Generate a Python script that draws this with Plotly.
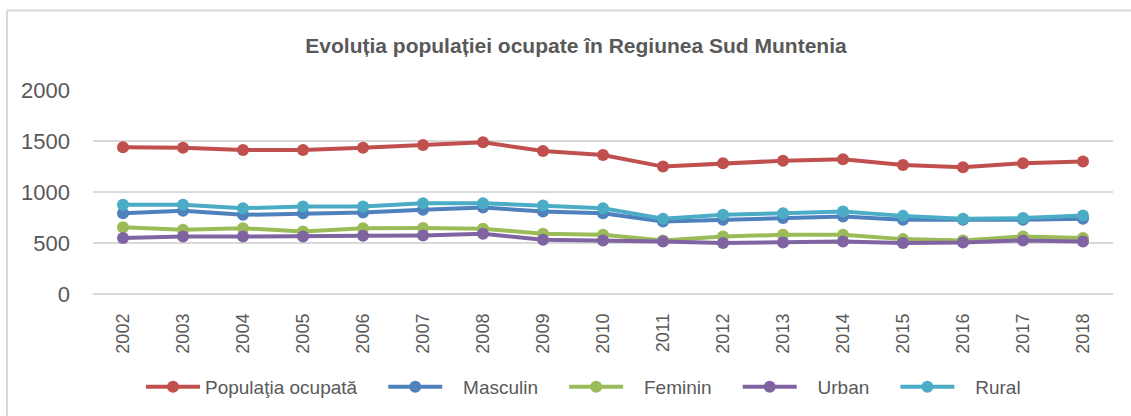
import plotly.graph_objects as go

years = [str(y) for y in range(2002, 2019)]
populatia = [1438, 1434, 1412, 1412, 1434, 1461, 1487, 1402, 1363, 1249, 1282, 1307, 1321, 1265, 1243, 1282, 1298]
masculin = [792, 815, 776, 792, 799, 825, 848, 808, 792, 711, 727, 744, 760, 727, 727, 727, 737]
feminin = [655, 629, 645, 613, 645, 648, 640, 590, 580, 525, 564, 580, 580, 538, 525, 564, 548]
urban = [548, 564, 564, 564, 570, 574, 590, 531, 525, 515, 499, 505, 515, 499, 505, 525, 515]
rural = [874, 874, 841, 857, 857, 890, 890, 867, 841, 737, 776, 792, 808, 766, 737, 744, 769]

series_names = ["Populaţia ocupată", "Masculin", "Feminin", "Urban", "Rural"]
series_values = [populatia, masculin, feminin, urban, rural]
colors = ["#C0504D", "#4F81BD", "#9BBB59", "#8064A2", "#4BACC6"]
name_prefix = ["", "\u00a0\u00a0\u00a0", "\u00a0\u00a0\u00a0", "\u00a0\u00a0\u00a0", "\u00a0\u00a0\u00a0"]
name_suffix = "\u00a0\u00a0\u00a0\u00a0"

FONT = "Liberation Sans, Arial, sans-serif"
TXT = "#595959"

fig = go.Figure()
for nm, vals, col, pre in zip(series_names, series_values, colors, name_prefix):
    fig.add_trace(go.Scatter(
        x=years, y=vals, mode="lines+markers", name=pre + nm + name_suffix,
        line=dict(color=col, width=4),
        marker=dict(color=col, size=12, symbol="circle"),
    ))

W, H = 1131, 416
L, R, T, B = 93, 18, 90, 122
pw, ph = W - L - R, H - T - B

def px_x(x):
    return (x - L) / pw

def px_y(y):
    return (H - B - y) / ph

border = "#D9D9D9"
shapes = [
    dict(type="line", xref="paper", yref="paper", x0=px_x(7), x1=px_x(1140), y0=px_y(10.5), y1=px_y(10.5),
         line=dict(color=border, width=2)),
    dict(type="line", xref="paper", yref="paper", x0=px_x(7), x1=px_x(7), y0=px_y(10.5), y1=px_y(425),
         line=dict(color=border, width=2)),
]

fig.update_layout(
    width=W, height=H,
    margin=dict(l=L, r=R, t=T, b=B, pad=0, autoexpand=False),
    paper_bgcolor="white", plot_bgcolor="white",
    title=dict(text="<b>Evoluția populației ocupate în Regiunea Sud Muntenia</b>",
               font=dict(family=FONT, size=21, color=TXT),
               x=576 / W, xref="container", xanchor="center",
               y=1 - 46 / H, yref="container", yanchor="middle"),
    showlegend=True,
    legend=dict(orientation="h", x=px_x(141), xanchor="left", y=px_y(387), yanchor="middle",
                font=dict(family=FONT, size=19, color=TXT), bgcolor="rgba(0,0,0,0)",
                itemwidth=54, tracegroupgap=0),
    shapes=shapes,
    xaxis=dict(type="category", categoryorder="array", categoryarray=years,
               tickangle=-90, tickfont=dict(family=FONT, size=18, color=TXT),
               showgrid=False, showline=False, zeroline=False, ticks="", automargin=False,
               ticklabelstandoff=15, range=[-0.5, len(years) - 0.5]),
    yaxis=dict(range=[0, 2000], tickvals=[0, 500, 1000, 1500, 2000],
               tickfont=dict(family=FONT, size=22, color=TXT), automargin=False,
               showgrid=True, gridcolor=border, gridwidth=1.5,
               zeroline=True, zerolinecolor=border, zerolinewidth=1.5,
               showline=False, ticks="", ticklabelstandoff=22),
)

fig.write_html("out.html", config={"displayModeBar": False},
               post_script="document.body.style.margin='0px';")
